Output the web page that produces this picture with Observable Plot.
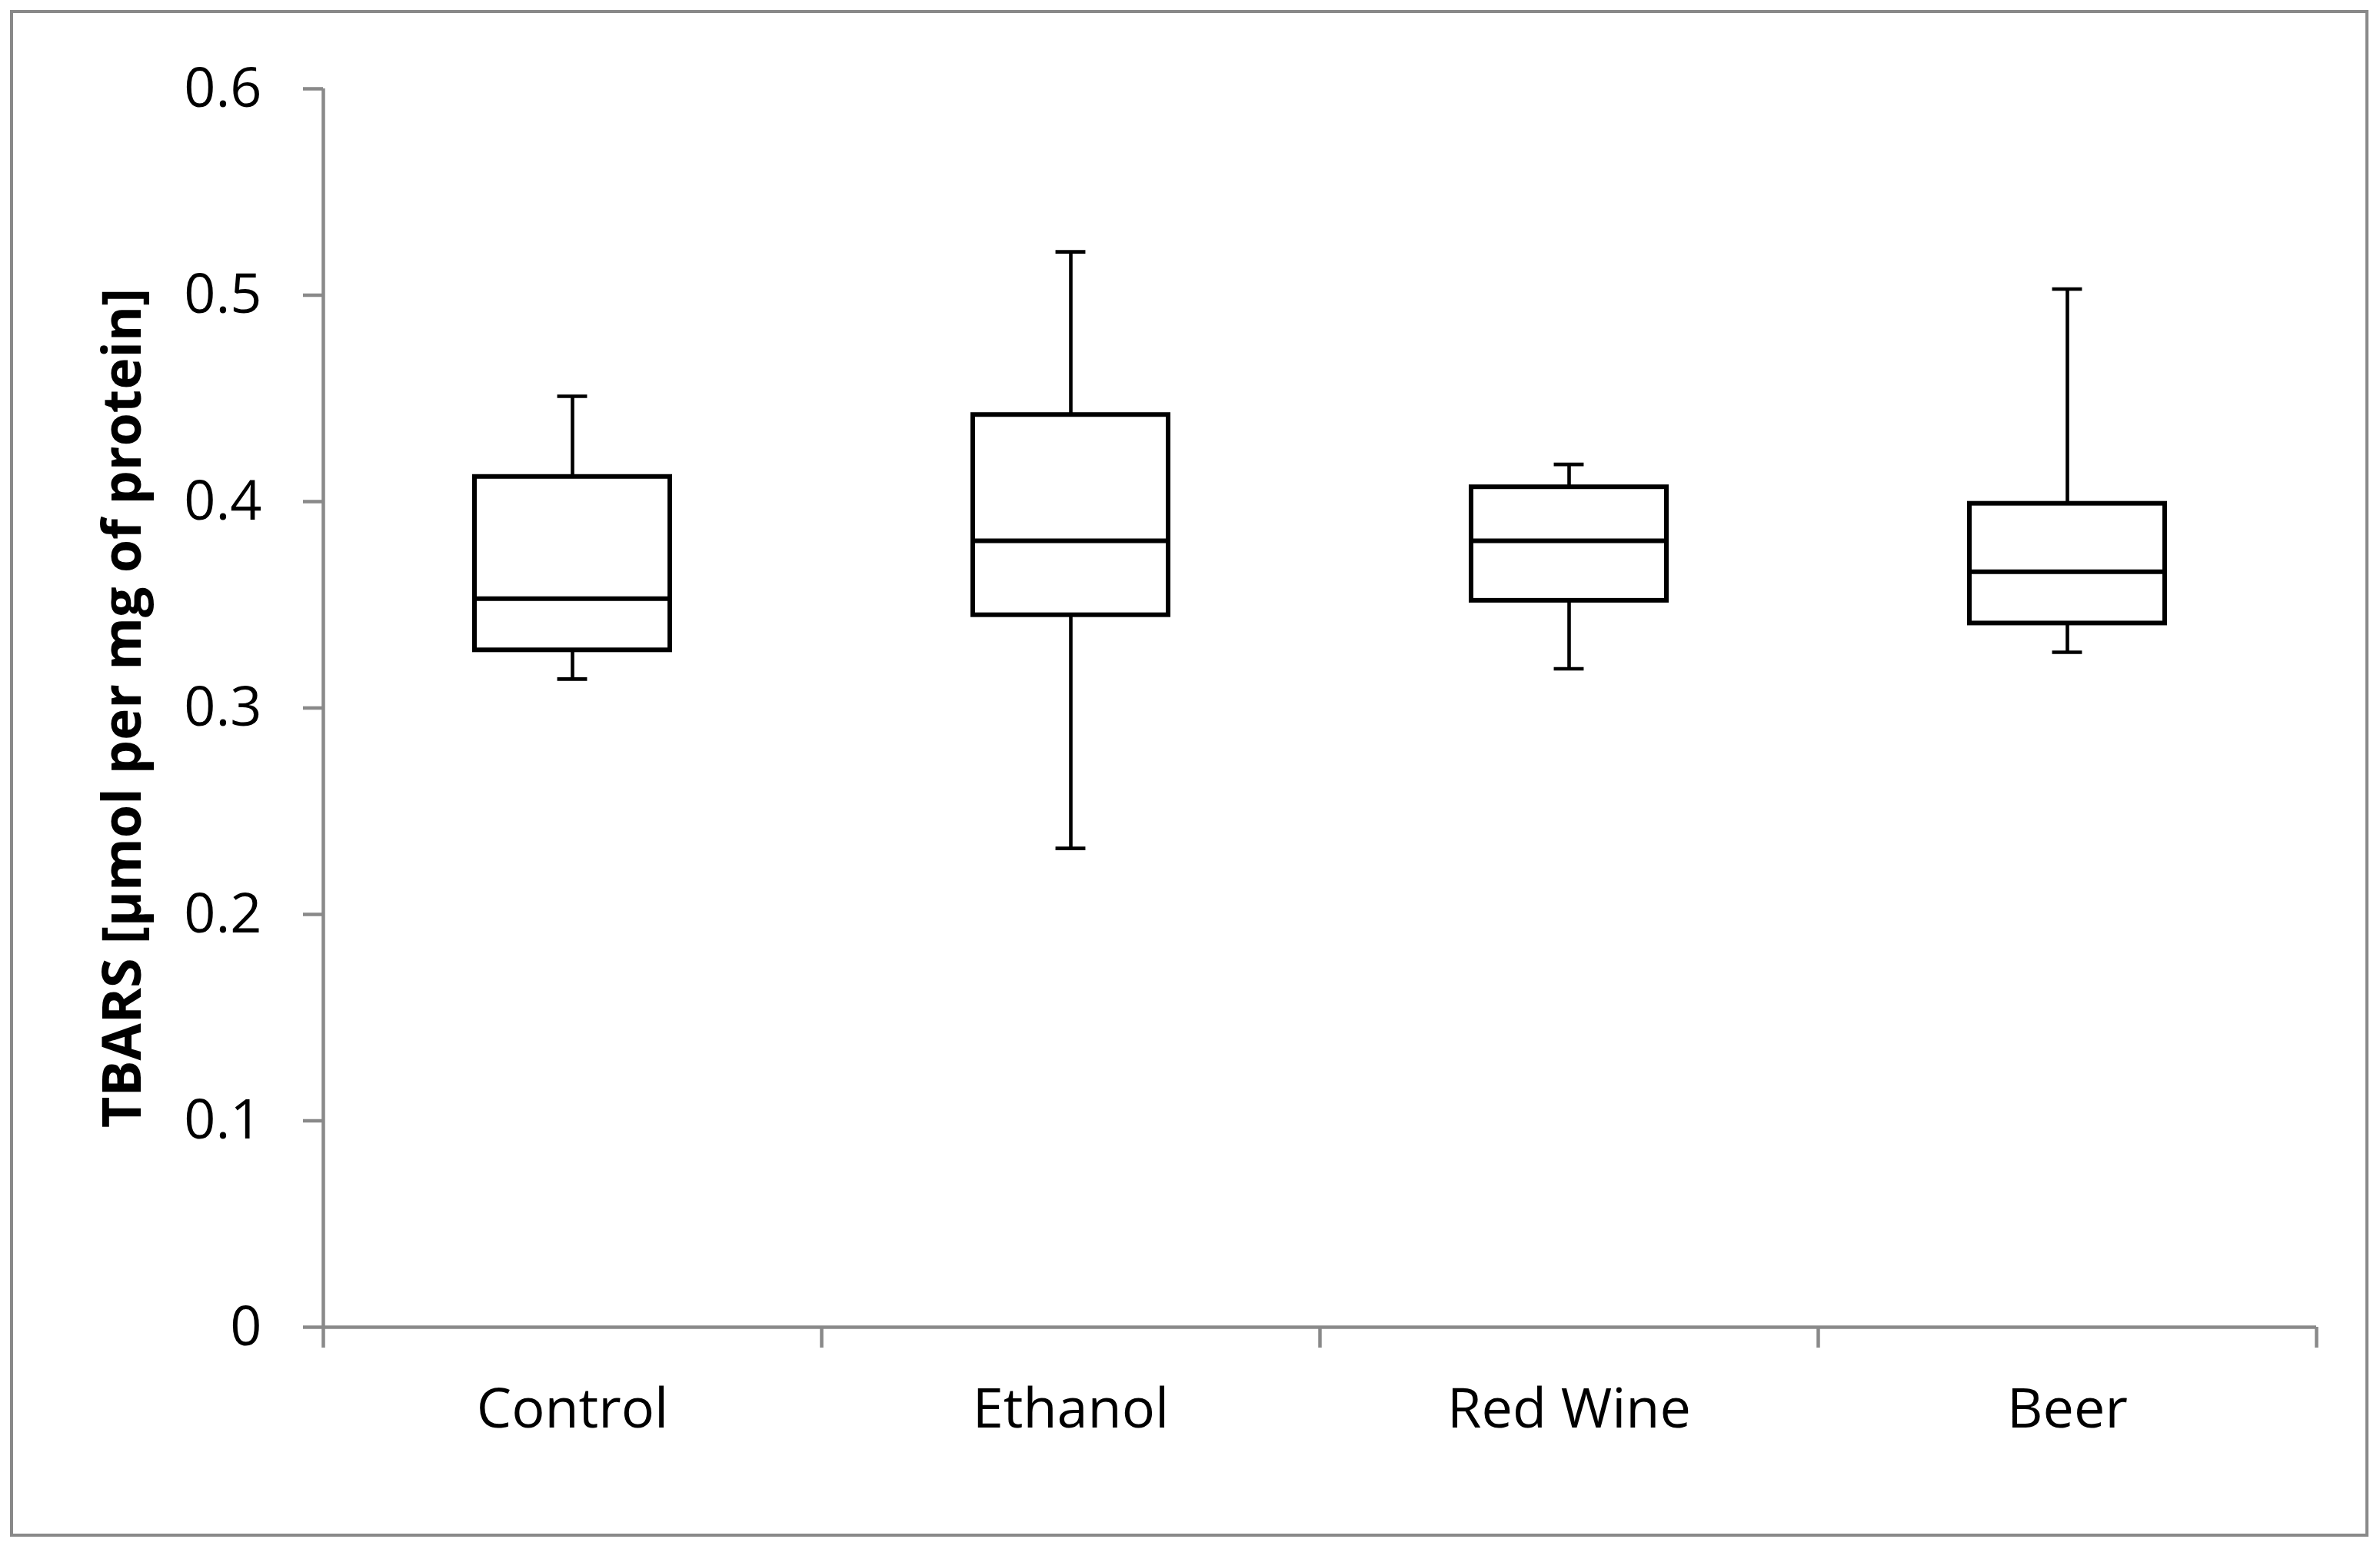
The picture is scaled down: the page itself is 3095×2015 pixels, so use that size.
<!DOCTYPE html>
<html>
<head>
<meta charset="utf-8">
<script src="https://cdn.jsdelivr.net/npm/d3@7"></script>
<script src="https://cdn.jsdelivr.net/npm/@observablehq/plot@0.6"></script>
<style>
  html, body { margin: 0; padding: 0; background: #fff; }
  #wrap { position: relative; width: 3095px; height: 2015px; overflow: hidden; }
  #frame { position: absolute; left: 13px; top: 13px; width: 3067px; height: 1986px;
           box-sizing: border-box; border: 4.7px solid #898989; pointer-events: none; }
  #chart svg { display: block; }
</style>
</head>
<body>
<div id="wrap">
  <div id="chart"></div>
  <div id="frame"></div>
</div>
<script>
// ---- data ----
const categories = ["Control", "Ethanol", "Red Wine", "Beer"];
const whiskerLow  = [0.314, 0.232, 0.319, 0.327];
const quartile1   = [0.328, 0.345, 0.352, 0.341];
const medians     = [0.353, 0.381, 0.381, 0.366];
const quartile3   = [0.412, 0.442, 0.407, 0.399];
const whiskerHigh = [0.451, 0.521, 0.418, 0.503];
const yTicks = [0, 0.1, 0.2, 0.3, 0.4, 0.5, 0.6];
const yLabel = "TBARS [µmol per mg of protein]";

const data = categories.map((c, i) => ({
  i, c, lo: whiskerLow[i], q1: quartile1[i], med: medians[i], q3: quartile3[i], hi: whiskerHigh[i]
}));

const boxHalf = 0.196;
const capHalf = 0.03;
const center = d => d.i + 0.5;
const gray = "#898989";

const chart = Plot.plot({
  width: 3095,
  height: 2015,
  marginLeft: 420,
  marginRight: 83,
  marginTop: 115,
  marginBottom: 289,
  style: { fontFamily: "'Open Sans', 'Noto Sans', sans-serif", background: "white" },
  x: { type: "linear", domain: [0, categories.length], axis: null },
  y: { domain: [0, 0.6], axis: null },
  marks: [
    // axis lines
    Plot.ruleX([0], { stroke: gray, strokeWidth: 4.5 }),
    Plot.ruleY([0], { stroke: gray, strokeWidth: 4.5 }),
    // y axis
    Plot.axisY({
      ticks: yTicks, tickSize: 26, tickPadding: 54,
      stroke: gray, strokeWidth: 4.5, fill: "black", fontSize: 72,
      tickFormat: d => d === 0 ? "0" : d.toFixed(1), label: null
    }),
    // x axis: ticks at category boundaries
    Plot.axisX({
      ticks: d3.range(categories.length + 1), tickSize: 27,
      stroke: gray, strokeWidth: 4.5, tickFormat: () => "", label: null
    }),
    // x axis: category labels at band centres
    Plot.axisX({
      ticks: categories.map((_, i) => i + 0.5), tickSize: 0, tickPadding: 79,
      fill: "black", fontSize: 72, tickFormat: v => categories[Math.floor(v)], label: null
    }),
    // y axis title
    Plot.text([yLabel], {
      frameAnchor: "left", dx: -260, rotate: -90, text: d => d,
      textAnchor: "middle", lineAnchor: "middle",
      fontSize: 70, fontWeight: "bold", fill: "black"
    }),
    // whiskers
    Plot.ruleX(data, { x: center, y1: "lo", y2: "hi", stroke: "black", strokeWidth: 4.6 }),
    Plot.ruleY(data, { y: "lo", x1: d => center(d) - capHalf, x2: d => center(d) + capHalf, stroke: "black", strokeWidth: 4.6 }),
    Plot.ruleY(data, { y: "hi", x1: d => center(d) - capHalf, x2: d => center(d) + capHalf, stroke: "black", strokeWidth: 4.6 }),
    // boxes
    Plot.rect(data, {
      x1: d => center(d) - boxHalf, x2: d => center(d) + boxHalf,
      y1: "q1", y2: "q3", fill: "white", stroke: "black", strokeWidth: 6
    }),
    // medians
    Plot.ruleY(data, { y: "med", x1: d => center(d) - boxHalf, x2: d => center(d) + boxHalf, stroke: "black", strokeWidth: 6 })
  ]
});
document.getElementById("chart").appendChild(chart);
</script>
</body>
</html>
